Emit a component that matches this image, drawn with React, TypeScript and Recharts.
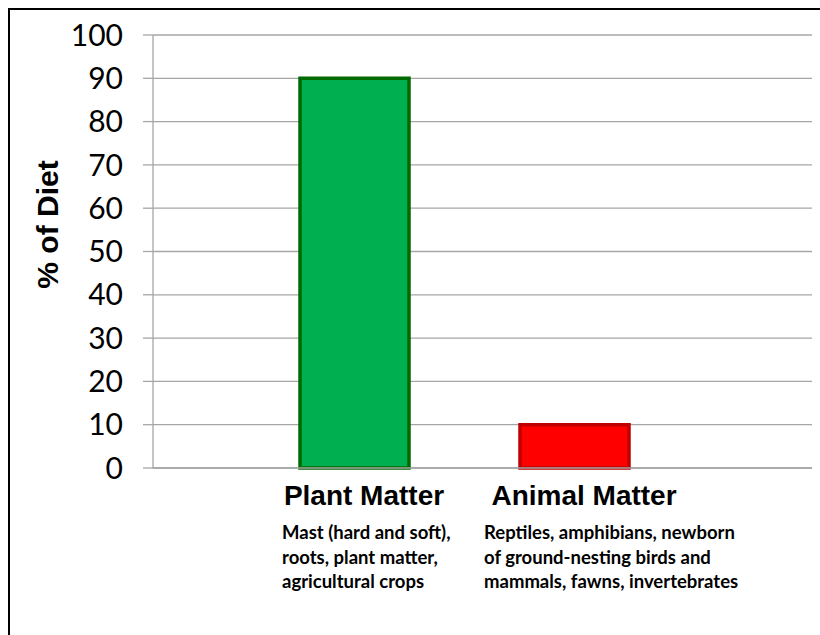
import React from "react";
import { BarChart, Bar, XAxis, YAxis, CartesianGrid, Cell } from "recharts";

const categories = ["Plant Matter", "Animal Matter"];
const dietPercent = [90, 10];
const descriptions = [
  ["Mast (hard and soft),", "roots, plant matter,", "agricultural crops"],
  ["Reptiles, amphibians, newborn", "of ground-nesting birds and", "mammals, fawns, invertebrates"],
];
const yTicks = [0, 10, 20, 30, 40, 50, 60, 70, 80, 90, 100];

const data = categories.map((name, i) => ({ name, value: dietPercent[i], desc: descriptions[i] }));

const FILLS = ["#00B050", "#FF0000"];
const STROKES = ["#006a00", "#C00000"];
const GRID = "#a6a6a6";
// description blocks are left aligned a bit left of the bar centre
const DESC_SHIFT = [-72, -90];

function CategoryTick(props: any) {
  const { x, y, payload, index } = props;
  const lines: string[] = descriptions[index] ?? [];
  return (
    <g>
      <text
        x={x + 10}
        y={y + 37}
        textAnchor="middle"
        fontFamily="'Liberation Sans', Arial, sans-serif"
        fontWeight="bold"
        fontSize={28}
        fill="#000"
      >
        {payload.value}
      </text>
      {lines.map((line, i) => (
        <text
          key={i}
          x={x + DESC_SHIFT[index]}
          y={y + 71 + i * 24.5}
          textAnchor="start"
          fontFamily="Lato, sans-serif"
          fontWeight="bold"
          fontSize={18.5}
          fill="#000"
        >
          {line}
        </text>
      ))}
    </g>
  );
}

function YLabel(props: any) {
  const { viewBox } = props;
  const cx = viewBox.x + 38;
  const cy = viewBox.y + viewBox.height / 2 - 27;
  return (
    <text
      x={cx}
      y={cy}
      transform={`rotate(-90, ${cx}, ${cy})`}
      textAnchor="middle"
      fontFamily="'Liberation Sans', Arial, sans-serif"
      fontWeight="bold"
      fontSize={30}
      fill="#000"
    >
      % of Diet
    </text>
  );
}

export default function App() {
  return (
    <div
      style={{
        position: "fixed",
        top: 8,
        left: 8,
        width: 810,
        height: 625,
        borderTop: "2px solid #000",
        borderLeft: "2px solid #000",
        background: "#fff",
      }}
    >
      <BarChart
        width={810}
        height={620}
        data={data}
        margin={{ top: 25, right: 8, left: 10, bottom: 12 }}
        barSize={109}
      >
        <CartesianGrid vertical={false} stroke={GRID} strokeWidth={1.3} />
        <XAxis
          dataKey="name"
          interval={0}
          tickLine={false}
          tickSize={0}
          tickMargin={0}
          height={150}
          padding={{ left: 91, right: 128 }}
          axisLine={{ stroke: GRID, strokeWidth: 1.3 }}
          tick={<CategoryTick />}
        />
        <YAxis
          domain={[0, 100]}
          ticks={yTicks}
          interval={0}
          width={133}
          tickSize={10}
          tickMargin={20}
          axisLine={{ stroke: GRID, strokeWidth: 1.3 }}
          tickLine={{ stroke: GRID, strokeWidth: 1.3 }}
          tick={{ fill: "#000", fontSize: 30, fontFamily: "Lato, sans-serif" }}
          label={<YLabel />}
        />
        <Bar dataKey="value" strokeWidth={3.5} isAnimationActive={false}>
          {data.map((d, i) => (
            <Cell key={d.name} fill={FILLS[i]} stroke={STROKES[i]} />
          ))}
        </Bar>
      </BarChart>
    </div>
  );
}
